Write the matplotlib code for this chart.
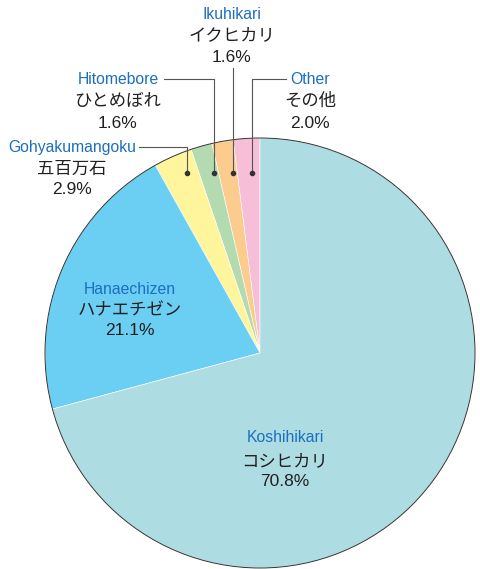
import matplotlib.pyplot as plt
from matplotlib.patches import Circle

# slices, counterclockwise from 12 o'clock
names_en = ['Other', 'Ikuhikari', 'Hitomebore', 'Gohyakumangoku', 'Hanaechizen', 'Koshihikari']
names_jp = ['その他', 'イクヒカリ', 'ひとめぼれ', '五百万石', 'ハナエチゼン', 'コシヒカリ']
shares = [2.0, 1.6, 1.6, 2.9, 21.1, 70.8]
colors = ['#F6BED7', '#FCCB8E', '#B4DBAF', '#FFF59C', '#6BCFF3', '#ADDDE3']

W, H = 481, 569
fig = plt.figure(figsize=(W / 100, H / 100), dpi=100)
ax = fig.add_axes([0, 0, 1, 1])

cx, cy, r = 260, H - 353, 215
ax.pie(shares, colors=colors, startangle=90, counterclock=True,
       center=(cx, cy), radius=r, frame=True,
       wedgeprops=dict(edgecolor='white', linewidth=0.4))
ax.set_xlim(0, W)
ax.set_ylim(0, H)
ax.set_aspect('equal')
ax.axis('off')
ax.add_patch(Circle((cx, cy), r, fill=False, edgecolor='#333333', linewidth=0.7))

blue = '#1C6FBF'
dark = '#231F20'
en_font = ['Liberation Sans', 'DejaVu Sans']
jp_font = ['Noto Sans CJK JP', 'DejaVu Sans']


def label(i, x, ys):
    y1, y2, y3 = ys
    ax.text(x, H - y1, names_en[i], color=blue, fontsize=11.3, family=en_font,
            ha='center', va='center')
    ax.text(x, H - y2, names_jp[i], color=dark, fontsize=12.5, family=jp_font,
            ha='center', va='center')
    ax.text(x, H - y3, f'{shares[i]:.1f}%', color=dark, fontsize=12.5, family=en_font,
            ha='center', va='center')


# outside labels with leader lines
label(1, 232, (14, 35, 57))
label(2, 118, (79, 101, 123))
label(0, 310, (79, 101, 123))
label(3, 72, (147, 169, 189))
# inside labels
label(4, 130, (289, 310, 330))
label(5, 285, (438, 461, 482))

line = dict(color='#555555', linewidth=0.8)
dot_y = H - 173
leaders = [
    [(252, dot_y), (252, H - 79), (286, H - 79)],       # Other
    [(233, dot_y), (233, H - 68)],                      # Ikuhikari
    [(214, dot_y), (214, H - 79), (164, H - 79)],       # Hitomebore
    [(187, dot_y), (187, H - 147), (139, H - 147)],     # Gohyakumangoku
]
for pts in leaders:
    xs, ys = zip(*pts)
    ax.plot(xs, ys, **line)
    ax.plot(xs[0], ys[0], 'o', color='#333333', markersize=3)

fig.savefig('out.png', dpi=100)
